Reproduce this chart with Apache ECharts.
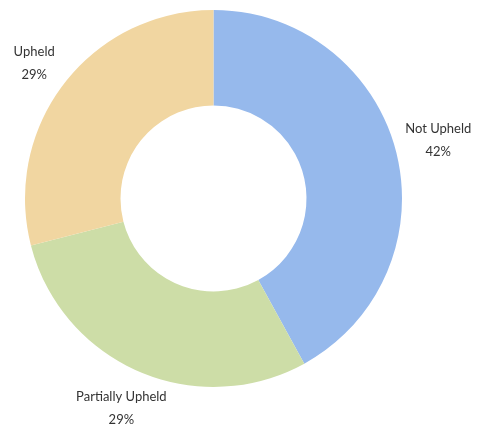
<!DOCTYPE html>
<html>
<head>
<meta charset="utf-8">
<script src="https://cdn.jsdelivr.net/npm/echarts@6/dist/echarts.min.js"></script>
<style>
  html, body { margin: 0; padding: 0; background: #fff; }
  #chart { width: 477px; height: 425px; }
</style>
</head>
<body>
<div id="chart"></div>
<script>
// Complaint outcomes
const categories = ['Not Upheld', 'Partially Upheld', 'Upheld'];
const shares = [42, 29, 29];
const colors = ['#96B9EC', '#CDDDA7', '#F1D6A1'];
// small nudges [dx, dy] applied to each label
const labelNudge = [[0, 0], [0, -3], [4, 7]];

const data = categories.map((name, i) => ({ name, value: shares[i] }));

const chart = echarts.init(document.getElementById('chart'), null, { renderer: 'canvas' });
chart.setOption({
  animation: false,
  color: colors,
  series: [
    {
      type: 'pie',
      center: [213.5, 198.5],
      radius: [93, 188.5],
      startAngle: 90,
      clockwise: true,
      silent: true,
      label: { show: false },
      labelLine: { show: false },
      data: data
    },
    {
      // transparent ring that carries the outside labels, centred on each slice
      type: 'pie',
      center: [213.5, 198.5],
      radius: [222, 236],
      startAngle: 90,
      clockwise: true,
      silent: true,
      itemStyle: { color: 'rgba(0,0,0,0)' },
      label: {
        show: true,
        position: 'inside',
        formatter: '{b}\n{d}%',
        color: '#333',
        fontFamily: 'Lato',
        fontSize: 13,
        lineHeight: 23,
        align: 'center'
      },
      labelLayout: function (params) {
        const n = labelNudge[params.dataIndex];
        return { dx: n[0], dy: n[1] };
      },
      labelLine: { show: false },
      data: data
    }
  ]
});
</script>
</body>
</html>
